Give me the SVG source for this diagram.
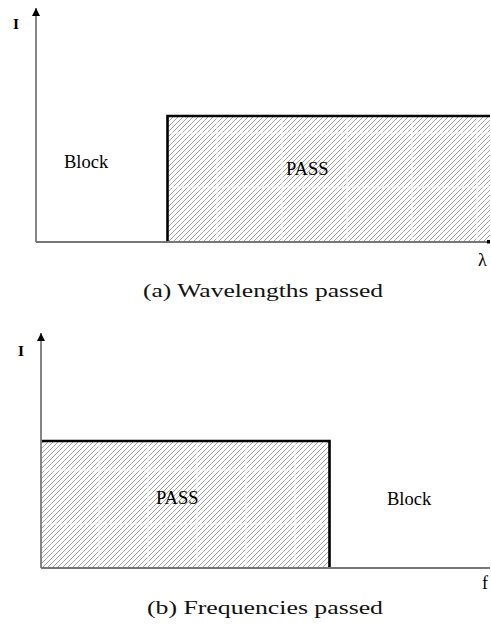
<svg xmlns="http://www.w3.org/2000/svg" width="491" height="626" viewBox="0 0 491 626">
  <style>
    .lbl { font-family: "Liberation Serif", "Times New Roman", serif; fill: #000; }
    .cap { font-family: "Liberation Serif", "Times New Roman", serif; font-size: 19px; fill: #111; }
    .axis { stroke: #333; stroke-width: 1.2; fill: none; }
    .base { stroke: #777; stroke-width: 2; fill: none; }
    .edge { stroke: #000; stroke-width: 2.6; fill: none; }
    .grid { stroke: #fff; stroke-width: 1.1; }
  </style>
  <defs>
    <pattern id="hatch" patternUnits="userSpaceOnUse" width="5" height="5">
      <path d="M0,5 L5,0 M-1,1 L1,-1 M4,6 L6,4" stroke="#9a9a9a" stroke-width="0.9"/>
    </pattern>
    <marker id="arrow" viewBox="0 0 8 12" refX="8" refY="6" markerWidth="8" markerHeight="12" markerUnits="userSpaceOnUse" orient="auto">
      <path d="M0,2 L8,6 L0,10 z" fill="#000"/>
    </marker>
  </defs>

  <!-- (a) wavelength plot -->
  <g id="plot-a">
    <g id="pass-a">
      <rect x="167" y="116" width="323" height="126" fill="url(#hatch)"/>
      <g class="grid">
        <line x1="217" y1="117" x2="217" y2="241"/>
        <line x1="282" y1="117" x2="282" y2="241"/>
        <line x1="347" y1="117" x2="347" y2="241"/>
        <line x1="412" y1="117" x2="412" y2="241"/>
        <line x1="477" y1="117" x2="477" y2="241"/>
        <line x1="168" y1="133" x2="490" y2="133"/>
        <line x1="168" y1="187" x2="490" y2="187"/>
      </g>
      <path class="edge" d="M167.5,242 V116 H490"/>
      <text class="lbl" x="286" y="175" font-size="18.5">PASS</text>
    </g>
    <g id="block-a">
      <text class="lbl" x="64" y="168" font-size="18.5">Block</text>
    </g>
    <g id="axes-a">
      <line class="axis" x1="36" y1="242" x2="36" y2="8" marker-end="url(#arrow)"/>
      <line class="base" x1="36" y1="242" x2="489" y2="242"/>
      <rect x="487" y="240" width="3" height="3.5" fill="#000"/>
      <text class="lbl" x="13" y="29" font-size="15.5" font-weight="bold">I</text>
      <text class="lbl" x="478" y="266" font-size="18">λ</text>
    </g>
    <text class="cap" x="143" y="297" textLength="240" lengthAdjust="spacingAndGlyphs">(a) Wavelengths passed</text>
  </g>

  <!-- (b) frequency plot -->
  <g id="plot-b">
    <g id="pass-b">
      <rect x="42" y="441" width="287" height="126" fill="url(#hatch)"/>
      <g class="grid">
        <line x1="99" y1="442" x2="99" y2="566"/>
        <line x1="148" y1="442" x2="148" y2="566"/>
        <line x1="197" y1="442" x2="197" y2="566"/>
        <line x1="246" y1="442" x2="246" y2="566"/>
        <line x1="295" y1="442" x2="295" y2="566"/>
        <line x1="43" y1="470" x2="328" y2="470"/>
        <line x1="43" y1="524" x2="328" y2="524"/>
      </g>
      <path class="edge" d="M42,441 H329.5 V567"/>
      <text class="lbl" x="156" y="504" font-size="18.5">PASS</text>
    </g>
    <g id="block-b">
      <text class="lbl" x="387" y="505" font-size="18.5">Block</text>
    </g>
    <g id="axes-b">
      <line class="axis" x1="41" y1="568" x2="41" y2="333" marker-end="url(#arrow)"/>
      <line class="base" x1="41" y1="568" x2="490" y2="568"/>
      <text class="lbl" x="18" y="356" font-size="15.5" font-weight="bold">I</text>
      <text class="lbl" x="482" y="589" font-size="18">f</text>
    </g>
    <text class="cap" x="147" y="614" textLength="236" lengthAdjust="spacingAndGlyphs">(b) Frequencies passed</text>
  </g>
</svg>
